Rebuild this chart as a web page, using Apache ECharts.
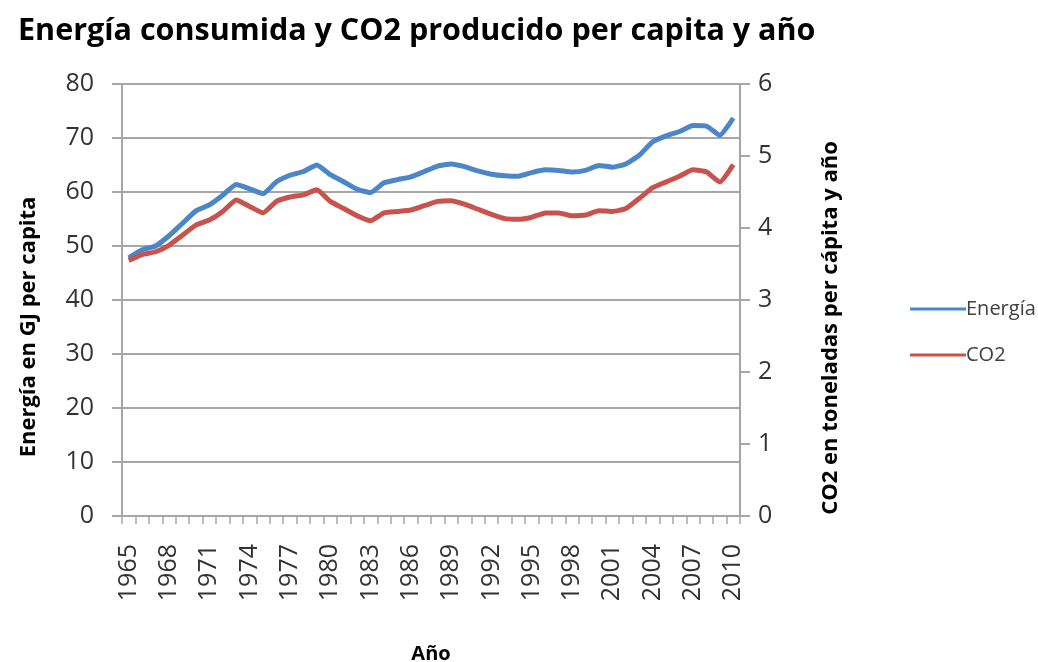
<!DOCTYPE html>
<html>
<head>
<meta charset="utf-8">
<script src="https://cdn.jsdelivr.net/npm/echarts@6/dist/echarts.min.js"></script>
<style>html,body{margin:0;padding:0;background:#fff}#c{width:1038px;height:662px}</style>
</head>
<body>
<div id="c"></div>
<script>
var years = [];
for (var y = 1965; y <= 2010; y++) years.push(String(y));
var energia = [47.8,49.3,50.0,51.9,54.2,56.5,57.6,59.4,61.4,60.6,59.7,61.9,63.1,63.8,65.0,63.2,61.9,60.5,59.9,61.7,62.3,62.8,63.8,64.8,65.2,64.7,63.9,63.3,63.0,62.9,63.6,64.1,64.0,63.7,64.0,64.9,64.6,65.2,66.8,69.3,70.4,71.2,72.3,72.2,70.5,73.7];
var co2 = [3.55,3.63,3.67,3.76,3.90,4.04,4.11,4.23,4.39,4.30,4.21,4.37,4.43,4.46,4.53,4.37,4.27,4.17,4.10,4.21,4.23,4.25,4.31,4.37,4.38,4.33,4.26,4.19,4.13,4.12,4.15,4.21,4.21,4.17,4.18,4.24,4.23,4.27,4.41,4.56,4.64,4.72,4.81,4.78,4.64,4.88];
var leftTicks = [0,80,10];
var rightTicks = [0,6,1];

var chart = echarts.init(document.getElementById('c'));
var font = '"Open Sans", "DejaVu Sans", sans-serif';
chart.setOption({
  animation: false,
  textStyle: {fontFamily: font},
  title: {
    text: 'Energía consumida y CO2 producido per capita y año',
    left: 13, top: 11,
    textStyle: {fontFamily: font, fontSize: 30.5, fontWeight: 'bold', color: '#000'}
  },
  grid: {left: 122, right: 298, top: 84, bottom: 146, outerBoundsMode: 'none', containLabel: false},
  legend: {
    orient: 'vertical', left: 905, top: 294, itemGap: 26,
    icon: 'rect', itemWidth: 56, itemHeight: 3,
    textStyle: {fontFamily: font, fontSize: 20, color: '#404040', padding: [0,0,0,-5]},
    data: ['Energía', 'CO2']
  },
  xAxis: {
    type: 'category', data: years, boundaryGap: true,
    name: 'Año', nameLocation: 'middle', nameGap: 128,
    nameTextStyle: {fontFamily: font, fontSize: 20, fontWeight: 'bold', color: '#000'},
    axisLine: {lineStyle: {color: '#a6a6a6', width: 2}},
    axisTick: {show: true, interval: 0, length: 8, lineStyle: {color: '#a6a6a6', width: 1.5}},
    axisLabel: {interval: 2, rotate: 90, fontSize: 25, color: '#333', margin: 28, fontFamily: font}
  },
  yAxis: [{
    type: 'value', min: leftTicks[0], max: leftTicks[1], interval: leftTicks[2],
    name: 'Energía en GJ per capita', nameLocation: 'middle', nameGap: 82, nameRotate: 90,
    nameTextStyle: {fontFamily: font, fontSize: 22, fontWeight: 'bold', color: '#000', padding: [0, 54, 0, 0]},
    axisLine: {show: true, lineStyle: {color: '#a6a6a6', width: 2}},
    axisTick: {show: true, length: 10, lineStyle: {color: '#a6a6a6', width: 2}},
    axisLabel: {fontSize: 25, color: '#333', margin: 28, fontFamily: font},
    splitLine: {lineStyle: {color: '#a6a6a6', width: 2}}
  }, {
    type: 'value', min: rightTicks[0], max: rightTicks[1], interval: rightTicks[2], position: 'right',
    name: 'CO2 en toneladas per cápita y año', nameLocation: 'middle', nameGap: 80, nameRotate: 90,
    nameTextStyle: {fontFamily: font, fontSize: 22, fontWeight: 'bold', color: '#000', padding: [0, 56, 0, 0]},
    axisLine: {show: true, lineStyle: {color: '#a6a6a6', width: 2}},
    axisTick: {show: true, length: 10, lineStyle: {color: '#a6a6a6', width: 2}},
    axisLabel: {fontSize: 25, color: '#333', margin: 18, fontFamily: font},
    splitLine: {show: false}
  }],
  series: [{
    name: 'Energía', type: 'line', yAxisIndex: 0, data: energia,
    symbol: 'none', smooth: 0.15, color: '#4a86c8',
    lineStyle: {width: 5, color: '#4a86c8'}
  }, {
    name: 'CO2', type: 'line', yAxisIndex: 1, data: co2,
    symbol: 'none', smooth: 0.15, color: '#c9524d',
    lineStyle: {width: 5, color: '#c9524d'}
  }]
});
</script>
</body>
</html>
